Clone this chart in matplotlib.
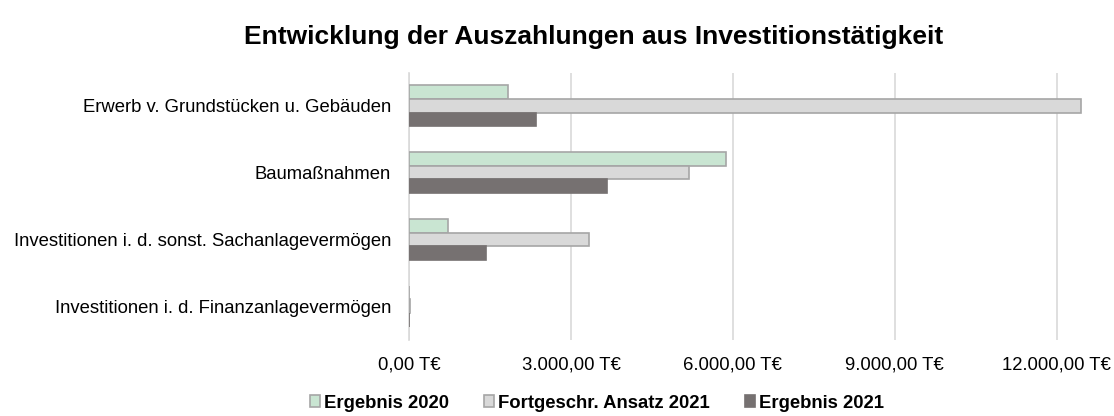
import matplotlib
matplotlib.use("Agg")
import matplotlib.pyplot as plt
import numpy as np

plt.rcParams['font.family'] = ['Liberation Sans', 'DejaVu Sans']

categories = [
    "Erwerb v. Grundstücken u. Gebäuden",
    "Baumaßnahmen",
    "Investitionen i. d. sonst. Sachanlagevermögen",
    "Investitionen i. d. Finanzanlagevermögen",
]
series_names = ["Ergebnis 2020", "Fortgeschr. Ansatz 2021", "Ergebnis 2021"]
ergebnis_2020 = [1828, 5870, 716, 0]
ansatz_2021 = [12439, 5191, 3339, 15]
ergebnis_2021 = [2360, 3667, 1426, 8]
tick_values = [0, 3000, 6000, 9000, 12000]
tick_labels = ["0,00 T€", "3.000,00 T€", "6.000,00 T€", "9.000,00 T€", "12.000,00 T€"]

fills = ["#C9E5D2", "#D9D9D9", "#767171"]
edges = ["#A6A6A6", "#A6A6A6", "#767171"]

fig = plt.figure(figsize=(11.14, 4.16), dpi=100)
ax = fig.add_axes([409/1114, 1-339.5/416, (1100-409)/1114, (339.5-72.5)/416])

y = np.arange(len(categories))
h = 0.205
offsets = [-h, 0, h]
for vals, name, fc, ec, off in zip([ergebnis_2020, ansatz_2021, ergebnis_2021], series_names, fills, edges, offsets):
    ax.barh(y + off, vals, height=h, color=fc, edgecolor=ec, linewidth=1.2, label=name, zorder=3)

ax.set_ylim(len(categories) - 0.5, -0.5)
ax.set_yticks(y)
ax.set_yticklabels(categories, fontsize=13.3)
ax.set_xlim(0, 12800)
ax.set_xticks(tick_values)
ax.set_xticklabels(tick_labels, fontsize=13.3)
ax.tick_params(axis='both', length=0)
ax.tick_params(axis='x', pad=12)
ax.tick_params(axis='y', pad=13)
ax.grid(axis='x', color='#D9D9D9', linewidth=1.2, zorder=0)
for s in ['top', 'right', 'bottom']:
    ax.spines[s].set_visible(False)
ax.spines['left'].set_color('#D9D9D9')
ax.spines['left'].set_linewidth(1.2)

fig.text(594/1114, 1-37/416, "Entwicklung der Auszahlungen aus Investitionstätigkeit",
         ha='center', va='center', fontsize=19, fontweight='bold')

leg = fig.legend(loc='center', bbox_to_anchor=(597/1114, 1-403/416), ncol=3, frameon=False,
                 prop={'weight': 'bold', 'size': 13.3}, handlelength=0.55, handleheight=0.55,
                 handletextpad=0.2, columnspacing=1.9)

fig.savefig("out.png", dpi=100)
